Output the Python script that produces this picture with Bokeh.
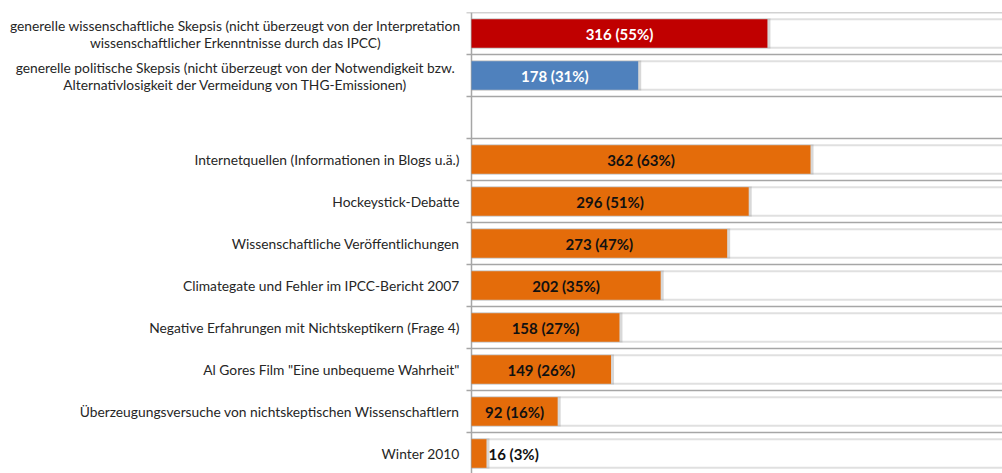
from bokeh.plotting import figure
from bokeh.models import ColumnDataSource, Range1d
from bokeh.embed import file_html
from bokeh.resources import INLINE
from bokeh.core.properties import value

# ---- data ----
categories = [
    "generelle wissenschaftliche Skepsis (nicht überzeugt von der Interpretation\nwissenschaftlicher Erkenntnisse durch das IPCC)",
    "generelle politische Skepsis (nicht überzeugt von der Notwendigkeit bzw.\nAlternativlosigkeit der Vermeidung von THG-Emissionen)",
    "",
    "Internetquellen (Informationen in Blogs u.ä.)",
    "Hockeystick-Debatte",
    "Wissenschaftliche Veröffentlichungen",
    "Climategate und Fehler im IPCC-Bericht 2007",
    "Negative Erfahrungen mit Nichtskeptikern (Frage 4)",
    "Al Gores Film \"Eine unbequeme Wahrheit\"",
    "Überzeugungsversuche von nichtskeptischen Wissenschaftlern",
    "Winter 2010",
]
counts = [316, 178, None, 362, 296, 273, 202, 158, 149, 92, 16]
percents = [55, 31, None, 63, 51, 47, 35, 27, 26, 16, 3]
bar_colors = ["#C00000", "#4F81BD", None, "#E46C0A", "#E46C0A", "#E46C0A",
              "#E46C0A", "#E46C0A", "#E46C0A", "#E46C0A", "#E46C0A"]
label_colors = ["#FFFFFF", "#FFFFFF", None, "#111111", "#111111", "#111111",
                "#111111", "#111111", "#111111", "#111111", "#111111"]
x_max = 567

FONT = "Lato"
BAR_H = 0.68
W, H = 1002, 473
LEFT, TOP = 471, 12          # screen position of the value axis / first row boundary
ROW_PX = 42
ppu = (W - LEFT) / x_max     # pixels per value unit
def px(d):                   # screen pixels -> value units
    return d / ppu

n = len(categories)
rows = [i for i, c in enumerate(counts) if c is not None]
ys = rows
vals = [counts[i] for i in rows]

src = ColumnDataSource(dict(
    y=ys,
    v=vals,
    shadow_r=[v + px(3) for v in vals],
    color=[bar_colors[i] for i in rows],
))

frame_h = H - TOP
p = figure(width=W, height=H, output_backend="svg", toolbar_location=None,
           x_range=Range1d(-px(LEFT), x_max), y_range=Range1d(-0.5 + frame_h / ROW_PX, -0.5),
           min_border_left=0, min_border_top=TOP, min_border_bottom=0, min_border_right=0)
p.outline_line_color = None
p.axis.visible = False
p.grid.visible = False
p.background_fill_color = "white"
p.border_fill_color = "white"

# category boundary grid lines (with short tick to the left of the axis)
bounds = [i - 0.5 for i in range(n + 1)]
p.segment(x0=-px(5), x1=x_max, y0=bounds, y1=bounds, line_color="#A6A6A6", line_width=1.5)
# light lines along bar edges
edge_y = [y - BAR_H / 2 for y in ys] + [y + BAR_H / 2 for y in ys]
p.segment(x0=0, x1=x_max, y0=edge_y, y1=edge_y, line_color="#E0E0E0", line_width=2)
# axis line
p.segment(x0=[0], x1=[0], y0=[bounds[0]], y1=[bounds[-1]], line_color="#A6A6A6", line_width=1.5)

# bars with a soft shadow
p.hbar(y="y", left=0, right="shadow_r", height=BAR_H + 0.04, source=src,
       fill_color="#909090", fill_alpha=0.35, line_color=None)
p.hbar(y="y", left=0, right="v", height=BAR_H, source=src,
       fill_color="color", line_color=None)

# value labels: centred if they fit, else just right of the bar
cx, ly, lt, lc, la = [], [], [], [], []
for i in rows:
    v = counts[i]
    if v > 60:
        cx.append(v / 2); la.append("center")
    else:
        cx.append(v + px(2)); la.append("left")
    ly.append(i); lt.append(f"{v} ({percents[i]}%)"); lc.append(label_colors[i])
p.text(x="x", y="y", text="t", text_color="c", text_align="a", text_baseline="middle",
       text_font=value(FONT), text_font_style="bold", text_font_size="15px",
       source=ColumnDataSource(dict(x=cx, y=ly, t=lt, c=lc, a=la)))

# category labels
tx, ty, tt, ta = [], [], [], []
line_off = 8.5 / ROW_PX
for i, c in enumerate(categories):
    if not c:
        continue
    lines = c.split("\n")
    if len(lines) == 1:
        tx.append(-px(12)); ty.append(i); tt.append(c); ta.append("right")
    else:
        for k, ln in enumerate(lines):
            tx.append(-px(LEFT - 235)); ty.append(i + (k - 0.5) * 2 * line_off)
            tt.append(ln); ta.append("center")
p.text(x="x", y="y", text="t", text_align="a", text_baseline="middle",
       text_font=value(FONT), text_font_size="13.8px", text_color="#262626",
       source=ColumnDataSource(dict(x=tx, y=ty, t=tt, a=ta)))

open("out.html", "w").write(file_html(p, INLINE))
